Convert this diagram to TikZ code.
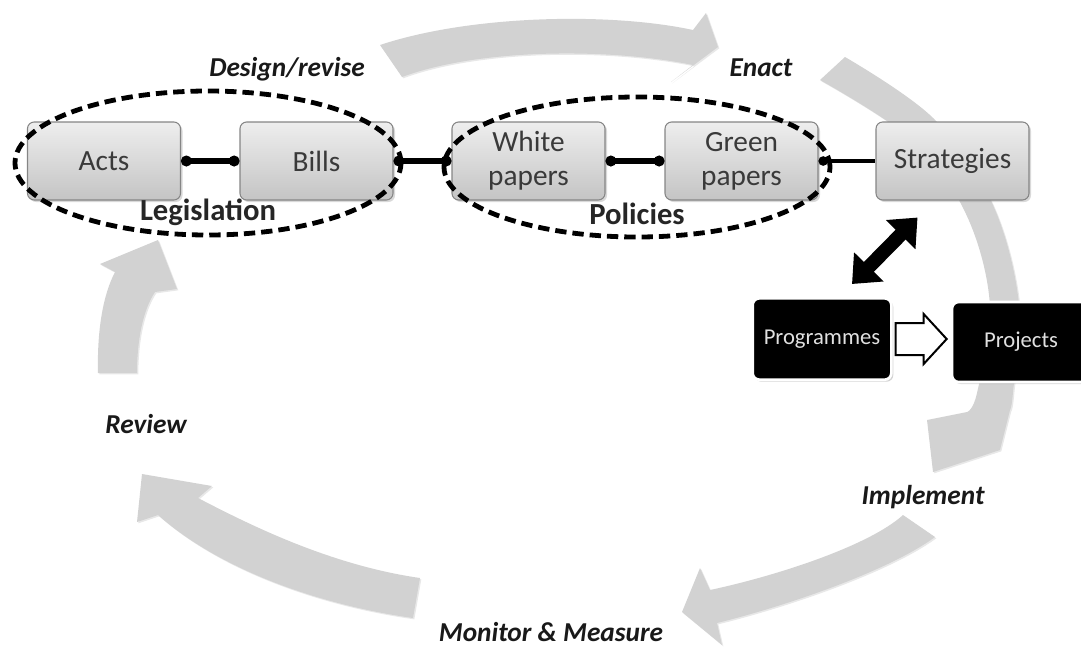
\documentclass[tikz,border=0pt]{standalone}
\usepackage{fontspec}
\setmainfont{Carlito}
\usetikzlibrary{arrows.meta,shadows,calc,shapes.geometric}
\definecolor{cycgray}{HTML}{D2D2D2}
\definecolor{boxtop}{HTML}{EEEEEE}
\definecolor{boxbot}{HTML}{C4C4C4}
\definecolor{boxline}{HTML}{858585}
\definecolor{boxtext}{HTML}{3A3A3A}
\begin{document}
\begin{tikzpicture}[x=0.75pt,y=-0.75pt,
  cyc/.style={fill=cycgray, drop shadow={opacity=0.18, shadow xshift=1pt, shadow yshift=-1pt}},
  graybox/.style={rectangle, rounded corners=5pt, draw=boxline, line width=0.8pt,
    top color=boxtop, bottom color=boxbot, minimum width=114.75pt, minimum height=58.5pt,
    inner sep=0pt, text=boxtext, align=center, font=\fontsize{22}{25.5}\selectfont,
    drop shadow={opacity=0.3, shadow xshift=1.5pt, shadow yshift=-1.5pt}},
  blackbox/.style={rectangle, rounded corners=5pt, fill=black, draw=white, line width=2pt,
    minimum width=104pt, minimum height=61pt, inner sep=0pt, text=black!12,
    font=\fontsize{17}{20}\selectfont,
    drop shadow={opacity=0.35, shadow xshift=1.5pt, shadow yshift=-1.5pt}},
  dashell/.style={ellipse, draw=black, line width=3.6pt, dash pattern=on 8.5pt off 4.5pt, inner sep=0pt},
  link/.style={line width=4.5pt, black, arrows={Circle[length=8pt]-Circle[length=8pt]}},
  thinlink/.style={line width=3pt, black, arrows={Circle[length=7pt]-}},
  lbl/.style={font=\bfseries\fontsize{23}{27}\selectfont, text=black!85, inner sep=0pt},
  phase/.style={font=\bfseries\itshape\fontsize{20.5}{24}\selectfont, text=black!90, inner sep=0pt},
  dbl/.style={line width=10.5pt, black, arrows={Triangle[length=18pt,width=30pt]-Triangle[length=18pt,width=30pt]}},
  hollow/.style={fill=white, draw=black, line width=1.5pt, line join=miter}
]
\useasboundingbox (0,0) rectangle (1081,647);
\clip (0,0) rectangle (1081,647);

% --- grey cycle arrows ---
\fill[cyc] (380,45) .. controls (470,15) and (610,12) .. (693,30) -- (706,13) -- (718,47)
  -- (671,82) -- (693,65) .. controls (610,48) and (480,48) .. (402,77) -- cycle;

\fill[cyc] plot[smooth, tension=0.6] coordinates {(845,57) (933,118) (992,203) (1019,304) (1013,392) (1010,410)}
  -- (1000,450) -- (933,472) -- (927,420) -- (967,412)
  -- plot[smooth, tension=0.6] coordinates {(967,412) (977,393) (990,306) (966,214) (912,140) (820,80)} -- cycle;

\fill[cyc] (903,515) .. controls (870,545) and (780,575) .. (710,590) -- (700,568) -- (682,612)
  -- (722,645) -- (717,623) .. controls (790,605) and (890,570) .. (935,537) -- cycle;

\fill[cyc] (420,578) .. controls (330,565) and (250,525) .. (198,498) -- (212,486) -- (142,474)
  -- (137,522) -- (158,515) .. controls (220,570) and (320,605) .. (413,618) -- cycle;

\fill[cyc] (98,373) .. controls (97,330) and (103,295) .. (115,272) -- (100,264) -- (158,240)
  -- (177,289) -- (155,292) .. controls (143,310) and (137,340) .. (137,373) -- cycle;

% --- boxes ---
\node[graybox] (acts)  at (104,161)   {Acts};
\node[graybox] (bills) at (316.5,161) {Bills};
\node[graybox] (white) at (528.5,161) {White\\papers};
\node[graybox] (green) at (741.5,161) {Green\\papers};
\node[graybox] (strat) at (952.5,161) {Strategies};

\node[blackbox] (prog) at (822,339) {Programmes};
\node[blackbox, minimum width=103.5pt, minimum height=60pt] (proj) at (1021,342) {Projects};

% --- links ---
\draw[link] (acts.east) -- (bills.west);
\draw[link] (bills.east) -- (white.west);
\draw[link] (white.east) -- (green.west);
\draw[thinlink] (green.east) -- (strat.west);

% --- dashed groupings ---
\node[dashell, minimum width=289.5pt, minimum height=108pt] (legis) at (208,163) {};
\node[dashell, minimum width=289.5pt, minimum height=105pt] (polic) at (637,167) {};
\node[lbl] (legislation) at (208,212) {Legislation};
\node[lbl] (policies) at (637,214) {Policies};

% --- double arrow strategies <-> programmes ---
\coordinate (dA) at ($(prog.north)+(30,-13)$);
\coordinate (dB) at ($(strat.south)+(-35,17)$);
\draw[dbl] (dA) -- (dB);

% --- hollow arrow programmes -> projects ---
\draw[hollow] ($(prog.east)+(3,-16)$) -- ++(28,0) -- ++(0,-9) -- ++(23,25) -- ++(-23,25)
  -- ++(0,-9) -- ++(-28,0) -- cycle;

% --- phase labels ---
\node[phase] (design) at (287,69) {Design/revise};
\node[phase] (enact) at (761,68) {Enact};
\node[phase] (implement) at (923,497) {Implement};
\node[phase] (monitor) at (551,632) {Monitor \& Measure};
\node[phase] (review) at (146,424) {Review};
\end{tikzpicture}
\end{document}
